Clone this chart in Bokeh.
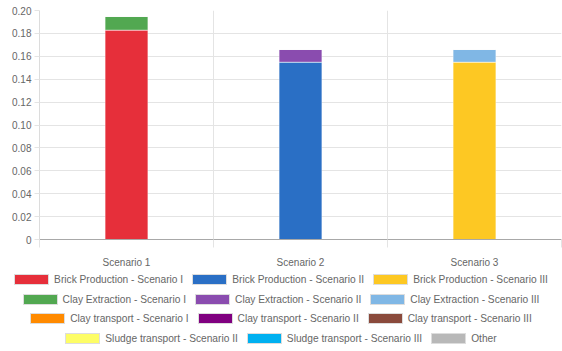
from bokeh.plotting import figure
from bokeh.layouts import column
from bokeh.models import ColumnDataSource, FixedTicker, Div
from bokeh.embed import file_html
from bokeh.resources import INLINE

# Scenario categories on the x axis
scenarios = ["Scenario 1", "Scenario 2", "Scenario 3"]

# Stacked contributions per scenario (one list per series)
brick_production_1 = [0.183, 0.0, 0.0]
brick_production_2 = [0.0, 0.155, 0.0]
brick_production_3 = [0.0, 0.0, 0.155]
clay_extraction_1 = [0.012, 0.0, 0.0]
clay_extraction_2 = [0.0, 0.011, 0.0]
clay_extraction_3 = [0.0, 0.0, 0.011]
clay_transport_1 = [0.0, 0.0, 0.0]
clay_transport_2 = [0.0, 0.0, 0.0]
clay_transport_3 = [0.0, 0.0, 0.0]
sludge_transport_2 = [0.0, 0.0, 0.0]
sludge_transport_3 = [0.0, 0.0, 0.0]
other = [0.0, 0.0, 0.0]

series_labels = [
    "Brick Production - Scenario I", "Brick Production - Scenario II", "Brick Production - Scenario III",
    "Clay Extraction - Scenario I", "Clay Extraction - Scenario II", "Clay Extraction - Scenario III",
    "Clay transport - Scenario I", "Clay transport - Scenario II", "Clay transport - Scenario III",
    "Sludge transport - Scenario II", "Sludge transport - Scenario III", "Other",
]
series_values = [
    brick_production_1, brick_production_2, brick_production_3,
    clay_extraction_1, clay_extraction_2, clay_extraction_3,
    clay_transport_1, clay_transport_2, clay_transport_3,
    sludge_transport_2, sludge_transport_3, other,
]
series_colors = [
    "#e62f3a", "#2a6fc5", "#fdc823",
    "#52a851", "#8a4caf", "#80b7e5",
    "#ff8a00", "#800080", "#8a4a3c",
    "#fdfd66", "#00b0f0", "#b8b8b8",
]

y_ticks = [0, 0.02, 0.04, 0.06, 0.08, 0.1, 0.12, 0.14, 0.16, 0.18, 0.2]
y_tick_labels = ["0", "0.02", "0.04", "0.06", "0.08", "0.10", "0.12", "0.14", "0.16", "0.18", "0.20"]

keys = [f"s{i}" for i in range(len(series_labels))]
data = {"x": [i + 0.5 for i in range(len(scenarios))]}
for k, v in zip(keys, series_values):
    data[k] = v
source = ColumnDataSource(data)

grid_color = "#e4e4e4"
text_color = "#666666"
font = "Liberation Sans"
bar_width = 0.245

p = figure(width=562, height=270, output_backend="svg", toolbar_location=None,
           x_range=(0, len(scenarios)), y_range=(0, 0.2),
           min_border_left=39, min_border_right=1, min_border_top=10, min_border_bottom=31)
p.outline_line_color = None

p.vbar_stack(keys, x="x", width=bar_width, source=source,
             color=series_colors, line_color="white", line_alpha=0.3, line_width=1)

xaxis = p.xaxis[0]
xaxis.ticker = FixedTicker(ticks=data["x"], minor_ticks=[0, 1, 2, 3])
xaxis.major_label_overrides = {x: s for x, s in zip(data["x"], scenarios)}
xaxis.major_tick_out = 0
xaxis.major_tick_in = 0
xaxis.minor_tick_out = 8
xaxis.minor_tick_in = 0
xaxis.minor_tick_line_color = grid_color
xaxis.major_label_standoff = 9
xaxis.axis_line_color = "#a8a8a8"
xaxis.major_label_text_color = text_color
xaxis.major_label_text_font = font
xaxis.major_label_text_font_size = "10px"

yaxis = p.yaxis[0]
yaxis.ticker = FixedTicker(ticks=y_ticks)
yaxis.major_label_overrides = {t: s for t, s in zip(y_ticks, y_tick_labels)}
yaxis.major_tick_out = 5
yaxis.major_tick_in = 0
yaxis.major_tick_line_color = grid_color
yaxis.minor_tick_line_color = None
yaxis.axis_line_color = "#dcdcdc"
yaxis.major_label_standoff = 3
yaxis.major_label_text_color = text_color
yaxis.major_label_text_font = font
yaxis.major_label_text_font_size = "10px"

p.xgrid.ticker = FixedTicker(ticks=[0, 1, 2, 3])
p.xgrid.grid_line_color = grid_color
p.ygrid.ticker = FixedTicker(ticks=y_ticks)
p.ygrid.grid_line_color = grid_color

# legend: four centred rows of colour boxes and series names under the chart
rows = [[0, 1, 2], [3, 4, 5], [6, 7, 8], [9, 10, 11]]
row_heights = [19, 20, 19, 20]
row_html = []
for row, h in zip(rows, row_heights):
    items = []
    for i in row:
        items.append(
            '<span style="display:inline-flex;align-items:center;margin:0 4.5px;white-space:nowrap;">'
            f'<span style="display:inline-block;box-sizing:border-box;width:35px;height:11px;'
            f'background:{series_colors[i]};border:1px solid #dddddd;margin-right:5px;"></span>'
            f'{series_labels[i]}</span>'
        )
    row_html.append(
        f'<div style="display:flex;justify-content:center;align-items:center;height:{h}px;">'
        + "".join(items) + "</div>"
    )
legend_html = (
    f'<div style="width:562px;font-family:\'{font}\';font-size:10.2px;color:{text_color};'
    'line-height:11px;margin:0;padding:0;">' + "".join(row_html) + "</div>"
)
legend = Div(text=legend_html, width=562, height=81, margin=0)

layout = column(p, legend, spacing=0)
open("out.html", "w").write(file_html(layout, INLINE))
